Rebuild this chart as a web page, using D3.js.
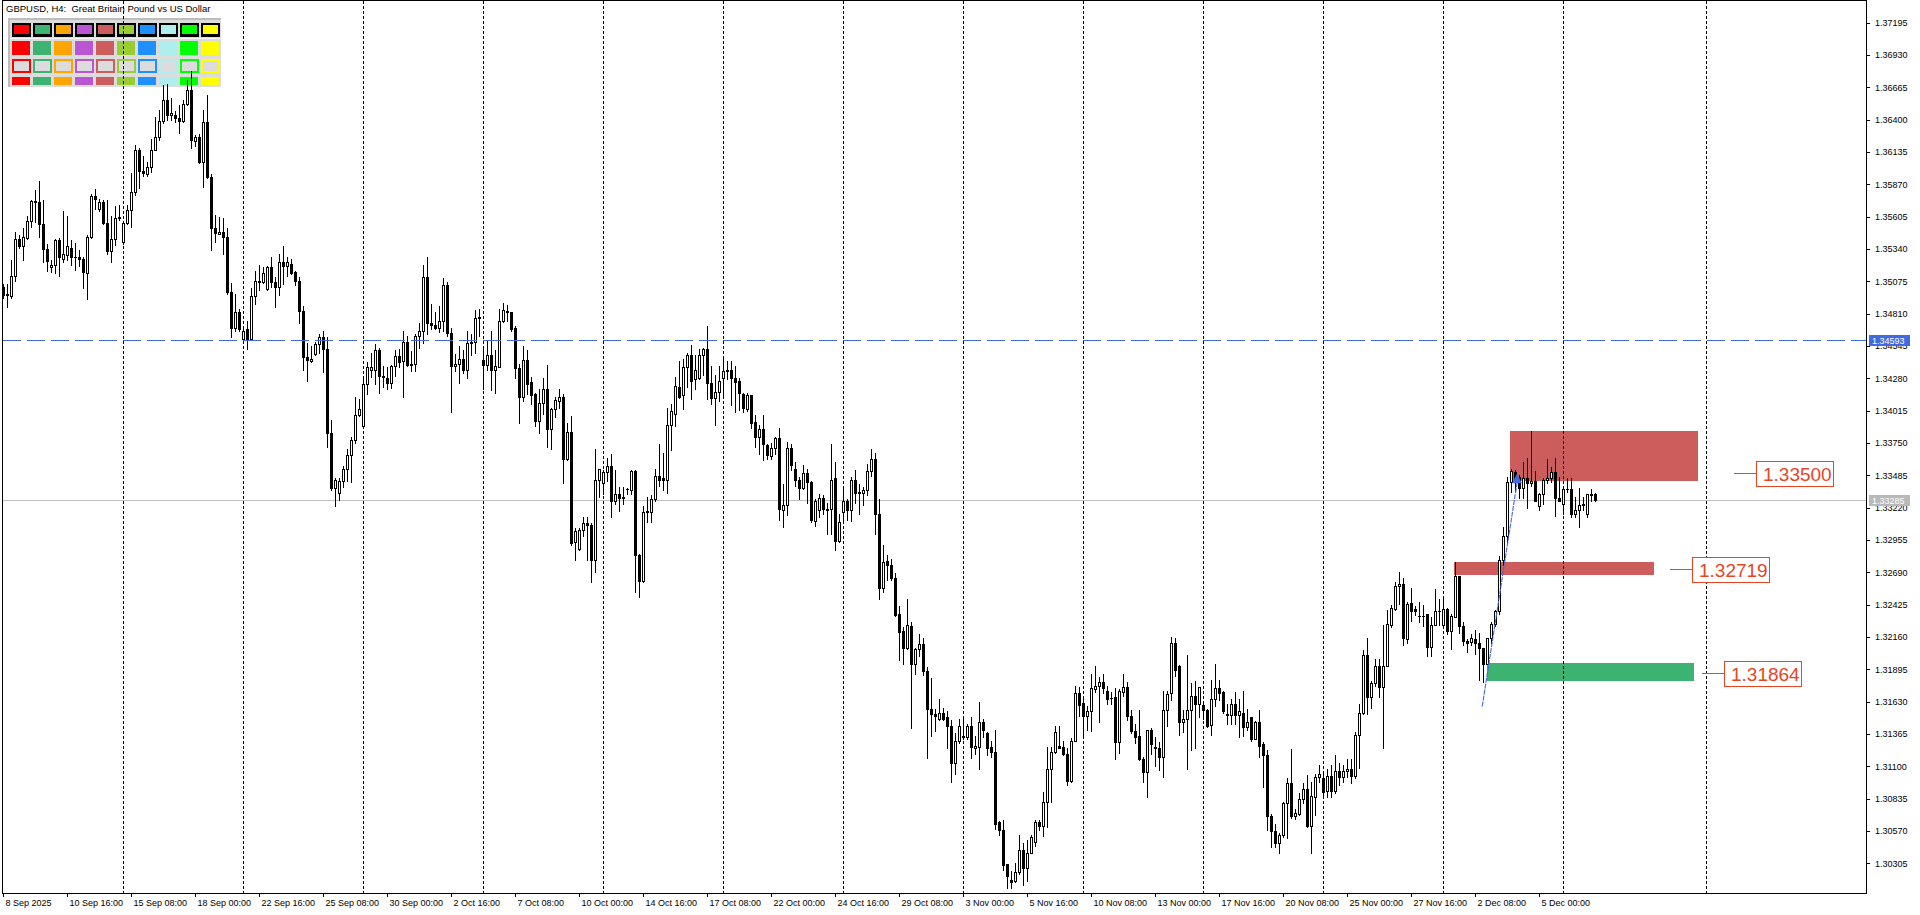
<!DOCTYPE html>
<html><head><meta charset="utf-8">
<script src="https://cdn.jsdelivr.net/npm/d3@7/dist/d3.min.js"></script>
<style>
html,body{margin:0;padding:0;background:#fff;overflow:hidden}
svg{display:block}
</style></head><body>
<svg id="chart" width="1920" height="915"></svg>
<script>
// ---------- DATA (prices in pips, i.e. price x 10000) ----------
const opens = [
13503,13496,13495,13512,13542,13536,13543,13557,13572,13572,
13554,13534,13519,13521,13541,13526,13529,13535,13527,13527,
13526,13514,13544,13577,13567,13572,13555,13532,13542,13559,
13540,13555,13566,13581,13615,13598,13595,13601,13615,13626,
13639,13656,13644,13644,13641,13639,13653,13664,13622,13626,
13605,13638,13593,13551,13546,13548,13544,13499,13469,13482,
13460,13468,13460,13495,13508,13507,13501,13519,13507,13503,
13523,13520,13522,13515,13508,13483,13445,13442,13448,13456,
13462,13452,13383,13338,13334,13344,13354,13365,13377,13398,
13389,13423,13435,13435,13451,13430,13428,13424,13438,13446,
13442,13458,13439,13440,13463,13467,13511,13473,13472,13469,
13475,13504,13465,13438,13440,13444,13435,13457,13458,13477,
13443,13439,13447,13435,13437,13475,13482,13482,13469,13436,
13413,13443,13425,13415,13393,13408,13419,13386,13403,13409,
13413,13362,13384,13294,13288,13304,13309,13308,13279,13345,
13342,13351,13356,13327,13333,13331,13337,13336,13352,13283,
13262,13318,13318,13329,13348,13346,13345,13390,13399,13421,
13414,13437,13447,13427,13428,13447,13452,13424,13412,13417,
13428,13434,13435,13428,13426,13415,13403,13414,13392,13380,
13386,13373,13364,13371,13379,13320,13324,13371,13354,13345,
13338,13350,13343,13311,13320,13330,13321,13321,13346,13295,
13318,13327,13320,13345,13335,13334,13336,13352,13362,13317,
13256,13278,13275,13264,13235,13221,13207,13225,13194,13206,
13210,13188,13157,13153,13149,13154,13150,13143,13113,13131,
13135,13134,13143,13125,13126,13146,13137,13126,13122,13064,
13058,13030,13017,13016,13023,13041,13027,13039,13048,13064,
13061,13081,13108,13122,13127,13126,13120,13098,13131,13170,
13162,13151,13155,13173,13176,13179,13172,13166,13167,13130,
13171,13175,13151,13139,13135,13116,13105,13140,13126,13125,
13118,13156,13170,13211,13192,13146,13149,13156,13168,13161,
13160,13156,13144,13165,13174,13171,13153,13152,13161,13152,
13154,13142,13150,13132,13146,13128,13119,13069,13057,13047,
13054,13080,13096,13069,13071,13083,13091,13061,13085,13101,
13100,13090,13102,13090,13106,13101,13106,13108,13102,13136,
13154,13201,13167,13178,13192,13175,13192,13226,13239,13258,
13259,13214,13244,13239,13233,13233,13235,13208,13226,13237,
13226,13239,13221,13232,13266,13225,13213,13212,13214,13211,
13207,13194,13215,13227,13237,13279,13299,13343,13351,13347,
13338,13346,13342,13344,13323,13333,13345,13346,13351,13330,
13325,13337,13337,13317,13320,13325,13317,13332,13333];
const highs = [
13505,13505,13525,13548,13545,13551,13561,13574,13582,13590,
13574,13538,13525,13542,13543,13565,13561,13541,13539,13533,
13527,13545,13579,13583,13575,13574,13574,13561,13569,13570,
13555,13570,13596,13619,13617,13610,13605,13624,13642,13648,
13668,13669,13658,13647,13652,13656,13672,13680,13627,13628,
13648,13660,13595,13562,13560,13559,13551,13506,13497,13485,
13470,13475,13502,13516,13521,13519,13520,13527,13511,13530,
13536,13527,13526,13516,13511,13487,13457,13454,13458,13464,
13467,13462,13394,13346,13346,13356,13370,13380,13413,13411,
13427,13441,13449,13456,13453,13438,13437,13439,13451,13452,
13467,13463,13450,13464,13473,13521,13527,13489,13482,13487,
13510,13507,13469,13448,13454,13451,13467,13464,13484,13485,
13454,13459,13467,13451,13485,13490,13488,13482,13471,13440,
13454,13451,13429,13416,13419,13428,13439,13404,13413,13419,
13415,13391,13397,13305,13305,13314,13314,13309,13370,13354,
13353,13363,13366,13353,13339,13339,13338,13353,13353,13284,
13323,13331,13332,13354,13374,13367,13404,13407,13429,13442,
13444,13449,13455,13447,13452,13453,13471,13438,13431,13438,
13444,13442,13442,13438,13428,13416,13416,13414,13398,13390,
13398,13374,13375,13380,13387,13341,13376,13374,13359,13347,
13357,13354,13344,13329,13333,13332,13326,13374,13359,13317,
13338,13329,13347,13353,13341,13339,13358,13370,13367,13329,
13291,13283,13280,13268,13241,13224,13247,13228,13207,13218,
13215,13191,13182,13157,13165,13158,13155,13148,13137,13149,
13149,13145,13150,13135,13163,13149,13138,13131,13140,13065,
13066,13030,13024,13031,13054,13047,13050,13054,13066,13066,
13089,13126,13126,13143,13143,13131,13125,13133,13176,13175,
13166,13159,13186,13192,13183,13186,13176,13171,13174,13173,
13186,13179,13156,13145,13156,13118,13140,13141,13134,13130,
13172,13172,13216,13215,13193,13156,13201,13178,13180,13175,
13161,13157,13181,13194,13181,13172,13161,13165,13171,13165,
13172,13157,13150,13147,13156,13130,13123,13071,13063,13055,
13081,13100,13124,13075,13088,13096,13103,13097,13104,13111,
13104,13108,13111,13119,13113,13111,13116,13116,13138,13161,
13205,13215,13180,13198,13198,13226,13238,13242,13261,13269,
13264,13245,13256,13241,13245,13242,13235,13232,13255,13247,
13249,13240,13235,13277,13266,13228,13214,13218,13222,13219,
13207,13215,13228,13238,13282,13306,13347,13354,13353,13349,
13359,13363,13385,13352,13334,13346,13362,13355,13363,13347,
13338,13346,13346,13331,13338,13331,13333,13337,13334];
const lows = [
13494,13486,13494,13508,13535,13525,13542,13552,13556,13544,
13523,13516,13515,13514,13512,13523,13525,13521,13517,13520,
13502,13493,13543,13567,13565,13554,13530,13523,13537,13558,
13538,13554,13552,13578,13584,13594,13594,13597,13615,13623,
13637,13640,13640,13638,13629,13638,13652,13617,13618,13604,
13585,13592,13533,13540,13546,13530,13497,13462,13467,13467,
13460,13452,13460,13489,13500,13506,13500,13503,13486,13496,
13505,13512,13513,13504,13473,13435,13426,13441,13447,13449,
13433,13372,13336,13323,13328,13339,13344,13343,13375,13397,
13388,13415,13429,13423,13416,13421,13419,13420,13430,13437,
13413,13438,13434,13434,13453,13457,13464,13468,13468,13466,
13467,13463,13400,13434,13424,13432,13428,13447,13449,13463,
13419,13435,13418,13416,13437,13474,13475,13467,13428,13391,
13409,13415,13407,13389,13383,13399,13372,13370,13396,13404,
13342,13361,13291,13279,13287,13299,13279,13261,13269,13331,
13333,13344,13314,13325,13319,13325,13333,13333,13253,13249,
13261,13310,13310,13327,13340,13336,13334,13369,13389,13412,
13403,13421,13411,13419,13427,13431,13411,13407,13390,13409,
13414,13427,13406,13400,13402,13400,13401,13387,13372,13366,
13361,13362,13362,13366,13312,13306,13316,13353,13340,13329,
13337,13326,13310,13307,13314,13317,13300,13300,13287,13294,
13311,13312,13311,13326,13317,13324,13332,13348,13300,13247,
13253,13263,13263,13233,13197,13194,13206,13141,13186,13200,
13185,13117,13135,13139,13148,13148,13125,13097,13104,13129,
13132,13132,13117,13120,13108,13134,13119,13118,13059,13054,
13025,13010,13010,13015,13022,13013,13016,13039,13045,13058,
13053,13060,13081,13121,13125,13119,13095,13097,13131,13151,
13134,13140,13139,13171,13146,13170,13161,13161,13116,13121,
13168,13148,13137,13129,13115,13097,13085,13120,13110,13107,
13101,13143,13164,13184,13136,13138,13108,13123,13125,13150,
13149,13142,13136,13159,13164,13154,13145,13145,13145,13134,
13135,13140,13131,13132,13118,13093,13058,13044,13044,13039,
13052,13051,13068,13067,13070,13080,13060,13039,13070,13097,
13085,13085,13085,13088,13095,13097,13101,13096,13100,13109,
13153,13153,13158,13176,13167,13125,13192,13224,13238,13243,
13209,13211,13229,13234,13228,13225,13200,13200,13226,13226,
13223,13218,13206,13232,13219,13209,13204,13209,13202,13181,
13179,13194,13211,13225,13235,13275,13292,13335,13335,13330,
13330,13322,13340,13327,13320,13325,13342,13343,13315,13327,
13317,13335,13314,13314,13306,13320,13314,13327,13327];
const closes = [
13496,13497,13512,13542,13536,13544,13557,13573,13573,13554,
13534,13524,13521,13541,13527,13530,13536,13527,13527,13526,
13515,13544,13577,13575,13572,13555,13532,13542,13559,13560,
13555,13566,13581,13615,13598,13596,13601,13615,13626,13639,
13656,13644,13645,13641,13639,13653,13664,13623,13626,13605,
13638,13593,13551,13547,13548,13544,13499,13469,13482,13468,
13467,13460,13495,13508,13507,13514,13519,13507,13503,13523,
13520,13523,13514,13508,13483,13445,13443,13444,13456,13462,
13452,13383,13338,13345,13344,13354,13365,13377,13398,13403,
13423,13437,13437,13451,13430,13429,13424,13438,13446,13441,
13458,13439,13440,13463,13467,13511,13473,13472,13469,13475,
13504,13465,13438,13440,13444,13435,13457,13458,13477,13478,
13439,13447,13435,13438,13475,13484,13483,13468,13436,13413,
13443,13423,13414,13393,13408,13419,13386,13403,13410,13413,
13362,13384,13293,13303,13304,13309,13308,13279,13345,13354,
13351,13356,13327,13333,13330,13330,13337,13352,13283,13262,
13318,13319,13329,13348,13345,13345,13390,13401,13422,13413,
13437,13447,13426,13435,13447,13452,13424,13412,13417,13426,
13434,13435,13428,13425,13416,13404,13414,13391,13380,13386,
13374,13365,13371,13379,13321,13324,13371,13357,13345,13338,
13350,13343,13312,13327,13330,13321,13320,13345,13295,13310,
13327,13320,13345,13334,13334,13336,13352,13362,13317,13256,
13277,13275,13264,13234,13220,13207,13226,13194,13206,13210,
13188,13157,13153,13151,13154,13149,13143,13113,13131,13143,
13134,13143,13126,13127,13146,13140,13125,13122,13063,13058,
13029,13020,13015,13023,13041,13027,13039,13052,13064,13061,
13081,13108,13122,13138,13125,13120,13098,13131,13170,13160,
13151,13155,13174,13176,13179,13174,13165,13166,13130,13172,
13175,13151,13139,13134,13116,13105,13140,13128,13125,13118,
13156,13169,13211,13189,13146,13149,13156,13168,13161,13175,
13156,13143,13165,13174,13170,13155,13152,13161,13152,13155,
13142,13146,13132,13146,13127,13119,13069,13057,13047,13054,
13080,13096,13069,13072,13083,13091,13061,13086,13101,13104,
13089,13102,13090,13106,13101,13106,13108,13102,13136,13154,
13201,13167,13178,13192,13175,13192,13227,13240,13258,13259,
13215,13243,13237,13237,13233,13233,13208,13226,13237,13237,
13239,13221,13233,13266,13225,13213,13211,13215,13211,13207,
13194,13215,13227,13237,13279,13299,13343,13352,13344,13338,
13346,13342,13344,13327,13333,13345,13346,13351,13330,13327,
13337,13337,13317,13320,13324,13324,13333,13333,13328];

// time axis labels (bar index of each label) and weekly grid (bar index)
const timeLabels = ["8 Sep 2025","10 Sep 16:00","15 Sep 08:00","18 Sep 00:00","22 Sep 16:00","25 Sep 08:00","30 Sep 00:00","2 Oct 16:00","7 Oct 08:00","10 Oct 00:00","14 Oct 16:00","17 Oct 08:00","22 Oct 00:00","24 Oct 16:00","29 Oct 08:00","3 Nov 00:00","5 Nov 16:00","10 Nov 08:00","13 Nov 00:00","17 Nov 16:00","20 Nov 08:00","25 Nov 00:00","27 Nov 16:00","2 Dec 08:00","5 Dec 00:00"];
const timeLabelBars = [0,16,32,48,64,80,96,112,128,144,160,176,192,208,224,240,256,272,288,304,320,336,352,368,384];
const gridBars = [30,60,90,120,150,180,210,240,270,300,330,360,390,425.75];

// price axis tick labels
const priceTicks = ["1.37195","1.36930","1.36665","1.36400","1.36135","1.35870","1.35605","1.35340","1.35075","1.34810","1.34545","1.34280","1.34015","1.33750","1.33485","1.33220","1.32955","1.32690","1.32425","1.32160","1.31895","1.31630","1.31365","1.31100","1.30835","1.30570","1.30305"];

// objects
const hLineValue = ["1.34593"];
const bidValue = ["1.33285"];
const zoneFrom = [376.75, 362.8, 370.9];
const zoneTo   = [423.75, 412.7, 422.75];
const zoneHigh = [13384.5, 13277, 13194.5];
const zoneLow  = [13343.5, 13266.5, 13180];
const levelTexts = ["1.33500","1.32719","1.31864"];
const levelAnchor = [432.75, 416.75, 424.8];
const trendBars = [369.8, 378.5];
const trendPrices = [13159, 13342];
const legendColors = ["#ff0000","#3cb371","#ffa500","#ba55d3","#cd5c5c","#9acd32","#1e90ff","#afeeee","#00ff00","#ffff00"];
const titleText = "GBPUSD, H4:  Great Britain Pound vs US Dollar";

// ---------- DRAWING ----------
const svg = d3.select("#chart");
const FONT = "'Liberation Sans', Arial, sans-serif";
const x = d3.scaleLinear().domain([0, 400]).range([3, 1603]);
const y = d3.scaleLinear().domain([13030.5, 13719.5]).range([863.3, 22.5]);
const px = v => Math.round(x(v));
const py = v => Math.round(y(v));
const P = s => parseFloat(s) * 10000;

svg.append("rect").attr("width", 1920).attr("height", 915).attr("fill", "#fff");

// legend panel (background object)
const lg = svg.append("g").attr("shape-rendering", "crispEdges");
lg.append("rect").attr("x", 8).attr("y", 18).attr("width", 213).attr("height", 69).attr("fill", "#dcdcdc");
lg.append("rect").attr("x", 8).attr("y", 18).attr("width", 213).attr("height", 2).attr("fill", "#bdbdbd");
lg.append("rect").attr("x", 8).attr("y", 18).attr("width", 2).attr("height", 69).attr("fill", "#bdbdbd");
lg.append("rect").attr("x", 10).attr("y", 38).attr("width", 211).attr("height", 1).attr("fill", "#f4f4f4");
legendColors.forEach((c, k) => {
  const cx = 12 + 21 * k;
  lg.append("rect").attr("x", cx).attr("y", 23).attr("width", 19).attr("height", 14).attr("fill", "#000");
  lg.append("rect").attr("x", cx + 2).attr("y", 25).attr("width", 15).attr("height", 9).attr("fill", c);
  lg.append("rect").attr("x", cx).attr("y", 41).attr("width", 18).attr("height", 14).attr("fill", c);
  lg.append("rect").attr("x", cx).attr("y", 59).attr("width", 19).attr("height", 14).attr("fill", c);
  lg.append("rect").attr("x", cx + 2).attr("y", 61).attr("width", 15).attr("height", 10).attr("fill", "#dcdcdc");
  lg.append("rect").attr("x", cx).attr("y", 77).attr("width", 18).attr("height", 8).attr("fill", c);
});

// zones (background rectangles)
const zoneColors = ["#cd5c5c", "#cd5c5c", "#3cb371"];
svg.append("g").attr("shape-rendering", "crispEdges").selectAll("rect")
  .data(zoneFrom).join("rect")
  .attr("x", (d) => px(d))
  .attr("y", (d, k) => py(zoneHigh[k]))
  .attr("width", (d, k) => px(zoneTo[k]) - px(d))
  .attr("height", (d, k) => py(zoneLow[k]) - py(zoneHigh[k]))
  .attr("fill", (d, k) => zoneColors[k]);

// vertical dotted grid
svg.append("g").attr("shape-rendering", "crispEdges").selectAll("line")
  .data(gridBars).join("line")
  .attr("x1", d => px(d) + 0.5).attr("x2", d => px(d) + 0.5)
  .attr("y1", 1).attr("y2", 893)
  .attr("stroke", "#000").attr("stroke-width", 1).attr("stroke-dasharray", "3,2");

// bid (last price) line
svg.append("line").attr("shape-rendering", "crispEdges")
  .attr("x1", 3).attr("x2", 1866)
  .attr("y1", py(P(bidValue[0])) + 0.5).attr("y2", py(P(bidValue[0])) + 0.5)
  .attr("stroke", "#c0c0c0").attr("stroke-width", 1);

// candles
const cg = svg.append("g").attr("shape-rendering", "crispEdges");
opens.forEach((o, i) => {
  const c = px(i), h = highs[i], l = lows[i], cl = closes[i];
  const yh = py(h), yl = py(l);
  const yt = py(Math.max(o, cl)), yb = py(Math.min(o, cl));
  cg.append("line").attr("x1", c + 0.5).attr("x2", c + 0.5).attr("y1", yh).attr("y2", yl + 1)
    .attr("stroke", "#000").attr("stroke-width", 1);
  if (yb - yt < 1) {
    cg.append("rect").attr("x", c - 1).attr("y", yt).attr("width", 3).attr("height", 1).attr("fill", "#000");
  } else if (cl >= o) {
    cg.append("rect").attr("x", c - 0.5).attr("y", yt + 0.5).attr("width", 2).attr("height", yb - yt)
      .attr("fill", "#fff").attr("stroke", "#000").attr("stroke-width", 1);
  } else {
    cg.append("rect").attr("x", c - 1).attr("y", yt).attr("width", 3).attr("height", yb - yt + 1).attr("fill", "#000");
  }
});

// horizontal line object (dashed royal blue)
svg.append("line").attr("shape-rendering", "crispEdges")
  .attr("x1", 3).attr("x2", 1866)
  .attr("y1", py(P(hLineValue[0])) + 0.5).attr("y2", py(P(hLineValue[0])) + 0.5)
  .attr("stroke", "#4169e1").attr("stroke-width", 1).attr("stroke-dasharray", "18,6");

// trend line with arrow
const tl = d3.line().x(d => x(d[0])).y(d => y(d[1]));
svg.append("path").attr("d", tl(trendBars.map((b, k) => [b, trendPrices[k]])))
  .attr("fill", "none").attr("stroke", "#4169e1").attr("stroke-width", 1.1).attr("stroke-dasharray", "5,1");
svg.append("path").attr("d", "M0,-9.5L5,0L-5,0Z")
  .attr("transform", `translate(${x(trendBars[1])},${y(trendPrices[1])})`)
  .attr("fill", "#4169e1");

// frame
svg.append("rect").attr("shape-rendering", "crispEdges")
  .attr("x", 2.5).attr("y", 0.5).attr("width", 1864).attr("height", 893)
  .attr("fill", "none").attr("stroke", "#000").attr("stroke-width", 1);

// price axis
const ya = svg.append("g").attr("transform", "translate(1866,0)")
  .call(d3.axisRight(y).tickValues(priceTicks.map(P)).tickFormat((d, i) => priceTicks[i])
    .tickSize(4).tickPadding(5).tickSizeOuter(0));
ya.select(".domain").remove();
ya.attr("font-family", FONT).attr("font-size", 9);
ya.selectAll("line").attr("shape-rendering", "crispEdges");

// time axis
const xa = svg.append("g").attr("transform", "translate(0,893)")
  .call(d3.axisBottom(x).tickValues(timeLabelBars).tickFormat((d, i) => timeLabels[i])
    .tickSize(4).tickPadding(3).tickSizeOuter(0));
xa.select(".domain").remove();
xa.attr("font-family", FONT).attr("font-size", 9);
xa.selectAll("line").attr("shape-rendering", "crispEdges");
xa.selectAll("text").attr("text-anchor", "start").attr("x", 2);

// price tags on the axis
function tag(val, bg) {
  const yc = py(P(val));
  svg.append("rect").attr("shape-rendering", "crispEdges")
    .attr("x", 1869).attr("y", yc - 5).attr("width", 41).attr("height", 11).attr("fill", bg);
  svg.append("text").attr("x", 1872).attr("y", yc + 3.5).attr("font-family", FONT)
    .attr("font-size", 9).attr("fill", "#fff").text(val);
}
tag(hLineValue[0], "#4169e1");
tag(bidValue[0], "#b9b9b9");

// level labels
const LC = "#e8441f";
levelTexts.forEach((t, k) => {
  const yc = py(P(t)) + 0.5;
  const x0 = px(levelAnchor[k]);
  svg.append("line").attr("shape-rendering", "crispEdges")
    .attr("x1", x0).attr("x2", x0 + 22).attr("y1", yc).attr("y2", yc)
    .attr("stroke", LC).attr("stroke-width", 1);
  svg.append("rect").attr("shape-rendering", "crispEdges")
    .attr("x", x0 + 22.5).attr("y", Math.round(yc - 12.5) + 0.5).attr("width", 77).attr("height", 25)
    .attr("fill", "#fff").attr("stroke", LC).attr("stroke-width", 1);
  svg.append("text").attr("x", x0 + 29).attr("y", yc + 7).attr("font-family", FONT)
    .attr("font-size", 19).attr("fill", LC).text(t);
});

// title
svg.append("text").attr("x", 6).attr("y", 12).attr("font-family", FONT).attr("font-size", 9.5)
  .attr("fill", "#000").attr("xml:space", "preserve").style("white-space", "pre").text(titleText);
</script>
</body></html>
